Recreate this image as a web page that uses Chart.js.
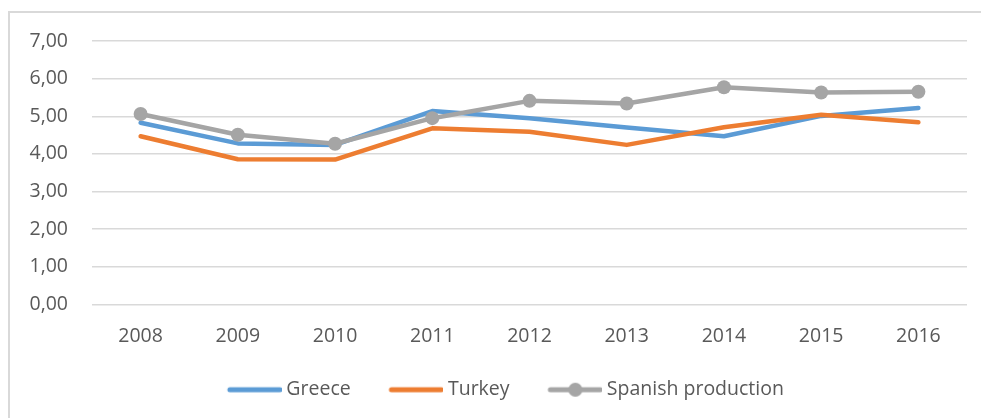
<!DOCTYPE html>
<html>
<head>
<meta charset="utf-8">
<script src="https://cdn.jsdelivr.net/npm/chart.js@4"></script>
<style>
  html, body { margin: 0; padding: 0; background: #fff; }
  canvas { display: block; }
</style>
</head>
<body>
<canvas id="chart" width="981" height="418"></canvas>
<script>
// ---- Data ------------------------------------------------------
const years    = ['2008', '2009', '2010', '2011', '2012', '2013', '2014', '2015', '2016'];
const greece   = [4.83, 4.28, 4.24, 5.14, 4.95, 4.70, 4.47, 5.01, 5.22];
const turkey   = [4.47, 3.86, 3.85, 4.68, 4.59, 4.24, 4.71, 5.04, 4.84];
const spanish  = [5.06, 4.51, 4.27, 4.95, 5.41, 5.34, 5.77, 5.63, 5.65];
const yTicks   = [0, 1, 2, 3, 4, 5, 6, 7];

const TEXT  = '#595959';
const GRID  = '#d9d9d9';
const FONT  = '"Open Sans", sans-serif';
const FSIZE = 19.5;
const COLORS = { greece: '#5b9bd5', turkey: '#ed7d31', spanish: '#a5a5a5' };

// Legend swatch: transparent gap on the left, then a line (+ marker)
const SW_W = 77.5;           // width the legend reserves for the swatch
const SW_IMG = 88.5;         // actual image width (overflows 5.5px each side)
function makeSwatch(color, marker) {
  const c = document.createElement('canvas');
  c.width = SW_IMG; c.height = 16;
  const g = c.getContext('2d');
  g.strokeStyle = color;
  g.lineWidth = 5;
  g.lineCap = 'round';
  g.beginPath();
  g.moveTo(SW_IMG - 55 + 2.5, 8);
  g.lineTo(SW_IMG - 2.5, 8);
  g.stroke();
  if (marker) {
    g.fillStyle = color;
    g.beginPath();
    g.arc(SW_IMG - 27.5, 8, 7, 0, Math.PI * 2);
    g.fill();
  }
  return c;
}

// Frame like the original (top + left border only)
const framePlugin = {
  id: 'frame',
  beforeDraw(chart) {
    const ctx = chart.ctx;
    ctx.save();
    ctx.fillStyle = '#fff';
    ctx.fillRect(0, 0, chart.width, chart.height);
    ctx.strokeStyle = GRID;
    ctx.lineWidth = 2;
    ctx.beginPath();
    ctx.moveTo(9, chart.height);
    ctx.lineTo(9, 12);
    ctx.lineTo(chart.width, 12);
    ctx.stroke();
    ctx.restore();
  }
};

const swatches = [
  makeSwatch(COLORS.greece, false),
  makeSwatch(COLORS.turkey, false),
  makeSwatch(COLORS.spanish, true)
];

new Chart(document.getElementById('chart'), {
  type: 'line',
  data: {
    labels: years,
    datasets: [
      {
        label: 'Greece',
        data: greece,
        borderColor: COLORS.greece,
        backgroundColor: COLORS.greece,
        borderWidth: 4.5,
        pointRadius: 0,
        order: 3
      },
      {
        label: 'Turkey',
        data: turkey,
        borderColor: COLORS.turkey,
        backgroundColor: COLORS.turkey,
        borderWidth: 4.5,
        pointRadius: 0,
        order: 2
      },
      {
        label: 'Spanish production',
        data: spanish,
        borderColor: COLORS.spanish,
        backgroundColor: COLORS.spanish,
        borderWidth: 4.5,
        pointRadius: 7,
        pointBorderWidth: 0,
        pointBackgroundColor: COLORS.spanish,
        order: 1
      }
    ]
  },
  options: {
    responsive: false,
    devicePixelRatio: 1,
    animation: false,
    layout: { padding: { left: 16, right: 14, top: 41, bottom: 8.5 } },
    elements: { line: { tension: 0, borderCapStyle: 'round', borderJoinStyle: 'round' } },
    scales: {
      x: {
        offset: true,
        grid: { display: false },
        border: { display: false },
        ticks: { color: TEXT, font: { family: FONT, size: FSIZE }, padding: 12, maxRotation: 0 },
        afterFit(scale) { scale.height = 65.5; }
      },
      y: {
        min: 0,
        max: 7,
        afterBuildTicks(scale) { scale.ticks = yTicks.map(v => ({ value: v })); },
        grid: { color: GRID, lineWidth: 1.5, drawTicks: false },
        border: { display: false },
        ticks: {
          color: TEXT,
          font: { family: FONT, size: FSIZE },
          padding: 24,
          callback: v => v.toFixed(2).replace('.', ',')
        },
        afterFit(scale) { scale.width = 76; }
      }
    },
    plugins: {
      legend: {
        position: 'bottom',
        labels: {
          color: TEXT,
          font: { family: FONT, size: FSIZE },
          usePointStyle: true,
          pointStyleWidth: SW_W,
          padding: 10,
          generateLabels(chart) {
            return chart.data.datasets.map((ds, i) => ({
              text: ds.label,
              fontColor: TEXT,
              pointStyle: swatches[i],
              datasetIndex: i,
              hidden: false,
              lineWidth: 0
            }));
          }
        }
      },
      tooltip: { enabled: false }
    }
  },
  plugins: [framePlugin]
});
</script>
</body>
</html>
